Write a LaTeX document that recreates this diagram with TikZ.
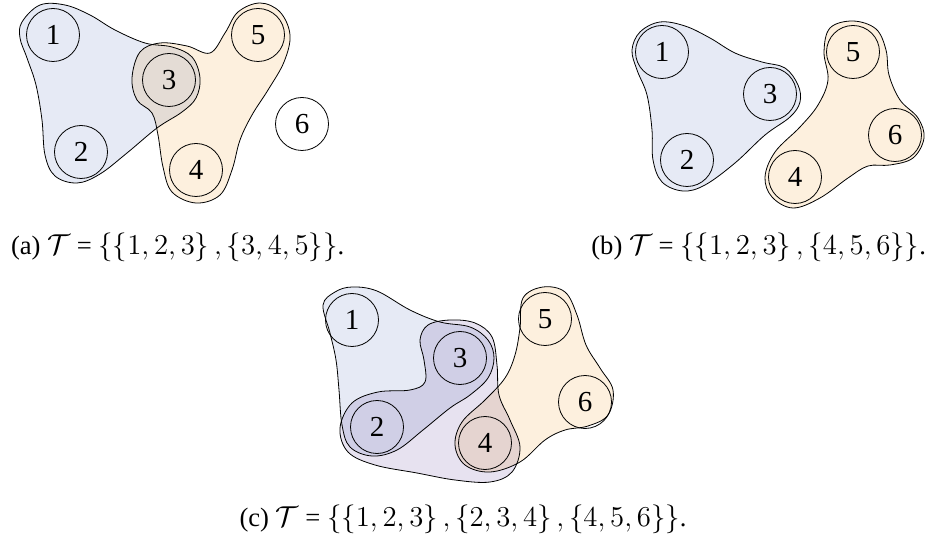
\documentclass[tikz,border=0pt]{standalone}
\usepackage{fontspec}
\setmainfont{Liberation Serif}
\usetikzlibrary{positioning}
\definecolor{hblue}{HTML}{E6EAF5}
\definecolor{horange}{HTML}{FDF0DE}
\definecolor{hpurple}{HTML}{E7E2F0}

\begin{document}
\begin{tikzpicture}[x=0.5pt, y=-0.5pt,
    vtx/.style={circle, draw, thin, minimum size=26.5pt, inner sep=0pt,
                font=\fontsize{14.5}{16}\selectfont},
    hedge/.style={draw, thin, blend mode=multiply},
    subcap/.style={font=\fontsize{13.3}{15}\selectfont}]
    \useasboundingbox (0,0) rectangle (936,539);

    % (a)
    \draw[hedge, fill=hblue] plot[smooth cycle, tension=0.6] coordinates {
      (22,22) (40,5) (65,5) (90,15) (115,30) (145,43) (172,47) (192,57)
      (200,78) (196,98) (182,112) (157,128) (127,153) (100,174) (77,183)
      (55,176) (45,155) (42,120) (36,85) (27,58) (20,38)};
    \draw[hedge, fill=horange] plot[smooth cycle, tension=0.6] coordinates {
      (140,52) (160,43) (187,46) (210,53) (225,33) (238,12) (260,3)
      (280,12) (290,35) (284,62) (268,90) (252,115) (240,140) (232,170)
      (220,195) (196,203) (172,192) (163,167) (158,135) (152,113)
      (137,100) (132,78)};
    \node[vtx] (a1) at (53,35) {1};
    \node[vtx] (a2) at (81,152) {2};
    \node[vtx] (a3) at (169,80) {3};
    \node[vtx] (a4) at (196,170) {4};
    \node[vtx] (a5) at (258,35) {5};
    \node[vtx] (a6) at (302,124) {6};
    \node[subcap, anchor=west] (capa) at (4,247)
      {(a) $\mathcal{T}$ = $\left\{\left\{1,2,3\right\},\left\{3,4,5\right\}\right\}$.};

    % (b)
    \draw[hedge, fill=hblue] plot[smooth cycle, tension=0.6] coordinates {
      (640,32) (660,22) (685,26) (710,38) (735,53) (762,62) (785,68)
      (798,85) (800,102) (790,117) (765,135) (735,163) (705,185) (683,191)
      (662,182) (653,160) (652,130) (647,95) (637,70) (632,50)};
    \draw[hedge, fill=horange] plot[smooth cycle, tension=0.6] coordinates {
      (830,28) (853,21) (876,29) (886,50) (889,75) (900,100) (918,118)
      (924,138) (913,158) (890,165) (868,166) (848,178) (820,198) (793,208)
      (772,197) (765,177) (775,152) (800,127) (818,105) (828,80) (824,52)};
    \node[vtx] (b1) at (662,52) {1};
    \node[vtx] (b2) at (687,160) {2};
    \node[vtx] (b3) at (770,94) {3};
    \node[vtx] (b4) at (795,177) {4};
    \node[vtx] (b5) at (853,52) {5};
    \node[vtx] (b6) at (895,135) {6};
    \node[subcap, anchor=east] (capb) at (933,247)
      {(b) $\mathcal{T}$ = $\left\{\left\{1,2,3\right\},\left\{4,5,6\right\}\right\}$.};

    % (c)
    \draw[hedge, fill=hblue] plot[smooth cycle, tension=0.6] coordinates {
      (323,305) (335,292) (352,287) (377,291) (410,310) (440,322) (470,327)
      (488,340) (494,358) (488,378) (470,395) (450,408) (423,430) (397,450)
      (372,456) (350,447) (342,425) (339,390) (336,360) (330,333)};
    \draw[hedge, fill=hpurple] plot[smooth cycle, tension=0.6] coordinates {
      (428,325) (450,320) (475,323) (492,337) (497,365) (499,395) (510,420)
      (520,447) (512,472) (490,482) (455,480) (417,473) (375,465) (348,452)
      (340,428) (352,403) (378,392) (410,390) (425,382) (424,360) (420,340)};
    \draw[hedge, fill=horange] plot[smooth cycle, tension=0.6] coordinates {
      (523,298) (543,287) (565,292) (577,315) (586,345) (600,368) (613,390)
      (608,415) (588,426) (565,430) (545,440) (520,462) (490,472) (465,465)
      (455,445) (462,422) (485,400) (505,378) (515,355) (520,328)};
    \node[vtx] (c1) at (352,320) {1};
    \node[vtx] (c2) at (377,427) {2};
    \node[vtx] (c3) at (460,358) {3};
    \node[vtx] (c4) at (485,443) {4};
    \node[vtx] (c5) at (545,319) {5};
    \node[vtx] (c6) at (585,402) {6};
    \node[subcap] (capc) at (463,519)
      {(c) $\mathcal{T}$ = $\left\{\left\{1,2,3\right\},\left\{2,3,4\right\},\left\{4,5,6\right\}\right\}$.};
\end{tikzpicture}
\end{document}
